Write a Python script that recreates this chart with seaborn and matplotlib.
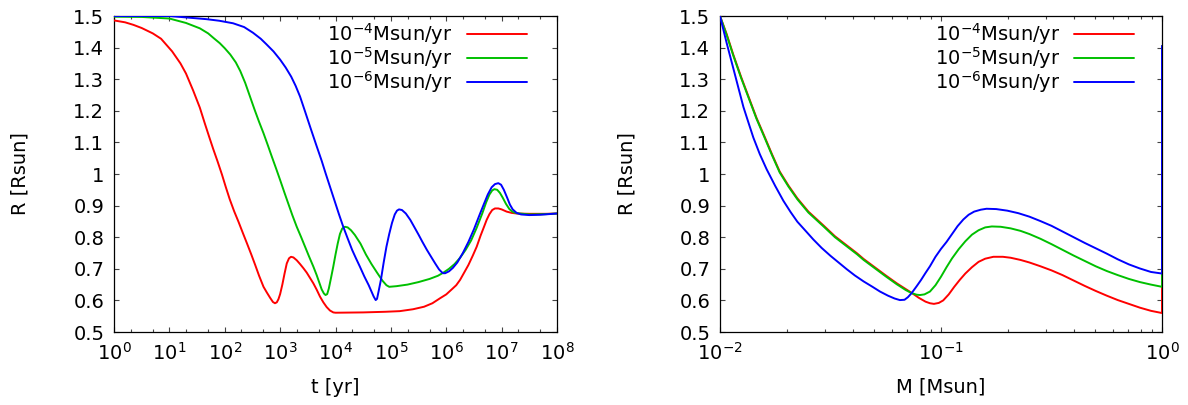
import numpy as np
import pandas as pd
import matplotlib
matplotlib.use("Agg")
import matplotlib.pyplot as plt
from matplotlib.ticker import (LogLocator, LogFormatterMathtext, MultipleLocator,
                               FuncFormatter, NullFormatter)
import seaborn as sns

# ---- radius [Rsun] vs log10(t / yr) for three accretion rates ----
logt_1e4 = [0.0, 0.2, 0.35, 0.5, 0.7, 0.85, 0.95, 1.05, 1.2, 1.3, 1.43, 1.55, 1.64,
            1.72, 1.79, 1.87, 1.95, 2.02, 2.09, 2.17, 2.25, 2.33, 2.40, 2.48, 2.55,
            2.62, 2.70, 2.76, 2.82, 2.87, 2.907, 2.94, 2.97, 3.0, 3.04, 3.08, 3.12,
            3.16, 3.196, 3.24, 3.3, 3.36, 3.42, 3.48, 3.54, 3.6, 3.66, 3.72, 3.78,
            3.84, 3.9, 3.96, 4.0, 4.5, 4.9, 5.16, 5.4, 5.6, 5.75, 5.89, 6.0, 6.1,
            6.18, 6.25, 6.33, 6.4, 6.48, 6.55, 6.62, 6.68, 6.73, 6.78, 6.83, 6.88,
            6.94, 7.0, 7.09, 7.18, 7.27, 7.5, 7.8, 8.0]
R_t_1e4 = [1.486, 1.480, 1.472, 1.462, 1.445, 1.428, 1.408, 1.388, 1.35, 1.318,
           1.264, 1.21, 1.16, 1.117, 1.08, 1.04, 0.998, 0.958, 0.92, 0.882, 0.848,
           0.812, 0.781, 0.745, 0.712, 0.678, 0.643, 0.625, 0.608, 0.595, 0.591,
           0.594, 0.604, 0.62, 0.65, 0.685, 0.717, 0.733, 0.738, 0.736, 0.727, 0.715,
           0.702, 0.688, 0.671, 0.654, 0.634, 0.612, 0.594, 0.579, 0.568, 0.562,
           0.561, 0.562, 0.564, 0.566, 0.572, 0.58, 0.591, 0.607, 0.619, 0.635, 0.648,
           0.665, 0.69, 0.712, 0.742, 0.77, 0.805, 0.832, 0.855, 0.873, 0.886, 0.891,
           0.891, 0.888, 0.881, 0.877, 0.875, 0.874, 0.874, 0.875]

logt_1e5 = [0.0, 0.5, 1.0, 1.3, 1.55, 1.7, 1.8, 1.91, 2.0, 2.1, 2.2, 2.28, 2.37,
            2.46, 2.54, 2.62, 2.70, 2.78, 2.85, 2.93, 3.0, 3.08, 3.15, 3.22, 3.3,
            3.38, 3.45, 3.52, 3.6, 3.66, 3.71, 3.75, 3.79, 3.82, 3.85, 3.88, 3.92,
            3.96, 4.0, 4.04, 4.08, 4.12, 4.17, 4.22, 4.28, 4.35, 4.45, 4.55, 4.65,
            4.75, 4.85, 4.92, 4.97, 5.1, 5.3, 5.5, 5.7, 5.85, 5.95, 6.05, 6.15, 6.25,
            6.35, 6.45, 6.55, 6.65, 6.72, 6.78, 6.83, 6.87, 6.92, 6.97, 7.02, 7.08,
            7.14, 7.2, 7.27, 7.5, 7.8, 8.0]
R_t_1e5 = [1.498, 1.497, 1.492, 1.478, 1.461, 1.445, 1.43, 1.414, 1.398, 1.378, 1.353,
           1.326, 1.288, 1.243, 1.203, 1.165, 1.129, 1.09, 1.055, 1.016, 0.981, 0.94,
           0.905, 0.87, 0.833, 0.8, 0.77, 0.74, 0.707, 0.68, 0.655, 0.635, 0.622,
           0.617, 0.62, 0.638, 0.672, 0.707, 0.745, 0.78, 0.81, 0.827, 0.833, 0.831,
           0.822, 0.807, 0.78, 0.745, 0.715, 0.688, 0.662, 0.648, 0.643, 0.645, 0.65,
           0.658, 0.668, 0.678, 0.688, 0.70, 0.715, 0.735, 0.76, 0.79, 0.83, 0.875,
           0.91, 0.935, 0.948, 0.952, 0.95, 0.94, 0.925, 0.905, 0.889, 0.88, 0.876,
           0.872, 0.873, 0.875]

logt_1e6 = [0.0, 1.0, 1.67, 1.9, 2.15, 2.35, 2.51, 2.65, 2.75, 2.88, 3.0, 3.1, 3.2,
            3.28, 3.36, 3.45, 3.55, 3.65, 3.75, 3.82, 3.9, 3.98, 4.06, 4.14, 4.22,
            4.3, 4.37, 4.44, 4.52, 4.6, 4.65, 4.69, 4.726, 4.75, 4.78, 4.82, 4.87,
            4.92, 4.97, 5.02, 5.07, 5.11, 5.147, 5.2, 5.27, 5.35, 5.43, 5.5, 5.57,
            5.65, 5.73, 5.8, 5.87, 5.92, 5.947, 5.98, 6.05, 6.12, 6.2, 6.3, 6.4, 6.5,
            6.6, 6.68, 6.75, 6.82, 6.88, 6.94, 6.99, 7.04, 7.1, 7.15, 7.2, 7.27, 7.35,
            7.5, 7.7, 8.0]
R_t_1e6 = [1.5, 1.5, 1.49, 1.485, 1.477, 1.465, 1.447, 1.428, 1.411, 1.388, 1.362,
           1.337, 1.308, 1.279, 1.245, 1.198, 1.145, 1.093, 1.042, 1.003, 0.96, 0.917,
           0.874, 0.833, 0.796, 0.76, 0.733, 0.707, 0.676, 0.648, 0.628, 0.612, 0.601,
           0.605, 0.63, 0.665, 0.72, 0.77, 0.81, 0.845, 0.872, 0.884, 0.888, 0.886,
           0.875, 0.855, 0.83, 0.808, 0.785, 0.76, 0.737, 0.717, 0.698, 0.689, 0.686,
           0.686, 0.692, 0.703, 0.72, 0.75, 0.785, 0.825, 0.87, 0.905, 0.935, 0.958,
           0.968, 0.971, 0.966, 0.95, 0.925, 0.903, 0.888, 0.877, 0.872, 0.87, 0.871,
           0.875]

# ---- radius [Rsun] vs log10(M / Msun) ----
logM_1e4 = [-2.0, -1.97, -1.94, -1.905, -1.87, -1.835, -1.80, -1.765, -1.73, -1.69,
            -1.65, -1.6, -1.53, -1.48, -1.43, -1.38, -1.35, -1.3, -1.25, -1.2, -1.16,
            -1.133, -1.1, -1.07, -1.05, -1.032, -1.01, -0.99, -0.965, -0.94, -0.915,
            -0.89, -0.86, -0.83, -0.8, -0.763, -0.72, -0.685, -0.64, -0.6, -0.55,
            -0.5, -0.45, -0.4, -0.35, -0.3, -0.25, -0.2, -0.15, -0.1, -0.05, 0.0, 0.0]
R_M_1e4 = [1.5, 1.443, 1.378, 1.308, 1.243, 1.178, 1.121, 1.063, 1.008, 0.963, 0.923,
           0.881, 0.836, 0.803, 0.776, 0.749, 0.731, 0.705, 0.679, 0.654, 0.636,
           0.624, 0.608, 0.596, 0.591, 0.589, 0.592, 0.6, 0.619, 0.643, 0.665, 0.685,
           0.705, 0.722, 0.732, 0.738, 0.738, 0.735, 0.728, 0.72, 0.708, 0.695, 0.68,
           0.663, 0.646, 0.63, 0.615, 0.601, 0.589, 0.577, 0.567, 0.56, 1.405]

logM_1e5 = [-2.0, -1.97, -1.94, -1.905, -1.87, -1.835, -1.80, -1.765, -1.73, -1.69,
            -1.65, -1.6, -1.53, -1.48, -1.43, -1.38, -1.35, -1.3, -1.25, -1.2, -1.16,
            -1.133, -1.11, -1.095, -1.075, -1.05, -1.025, -1.0, -0.975, -0.95, -0.92,
            -0.89, -0.86, -0.83, -0.8, -0.77, -0.73, -0.685, -0.64, -0.6, -0.55, -0.5,
            -0.45, -0.4, -0.35, -0.3, -0.25, -0.2, -0.15, -0.1, -0.05, 0.0, 0.0]
R_M_1e5 = [1.5, 1.44, 1.375, 1.305, 1.24, 1.175, 1.118, 1.06, 1.005, 0.96, 0.92,
           0.878, 0.833, 0.8, 0.773, 0.746, 0.728, 0.702, 0.676, 0.651, 0.633, 0.623,
           0.618, 0.617, 0.619, 0.628, 0.648, 0.675, 0.705, 0.733, 0.762, 0.787,
           0.808, 0.822, 0.831, 0.834, 0.833, 0.828, 0.82, 0.81, 0.795, 0.778, 0.76,
           0.742, 0.725, 0.708, 0.693, 0.68, 0.668, 0.658, 0.65, 0.643, 1.405]

logM_1e6 = [-2.0, -1.97, -1.94, -1.915, -1.894, -1.87, -1.849, -1.82, -1.789, -1.75,
            -1.713, -1.68, -1.65, -1.61, -1.578, -1.54, -1.5, -1.46, -1.427, -1.39,
            -1.35, -1.31, -1.276, -1.24, -1.21, -1.186, -1.165, -1.15, -1.133, -1.11,
            -1.09, -1.07, -1.05, -1.025, -1.0, -0.975, -0.95, -0.925, -0.899, -0.875,
            -0.85, -0.82, -0.794, -0.75, -0.7, -0.65, -0.6, -0.55, -0.5, -0.45, -0.4,
            -0.35, -0.3, -0.25, -0.2, -0.15, -0.1, -0.05, 0.0, 0.0]
R_M_1e6 = [1.5, 1.415, 1.335, 1.268, 1.212, 1.16, 1.115, 1.063, 1.015, 0.962, 0.915,
           0.879, 0.849, 0.818, 0.793, 0.766, 0.741, 0.718, 0.699, 0.679, 0.66, 0.643,
           0.628, 0.615, 0.606, 0.601, 0.602, 0.61, 0.623, 0.645, 0.665, 0.687, 0.708,
           0.738, 0.763, 0.785, 0.81, 0.835, 0.856, 0.871, 0.881, 0.887, 0.890, 0.889,
           0.884, 0.876, 0.865, 0.851, 0.836, 0.818, 0.8, 0.782, 0.765, 0.748, 0.73,
           0.714, 0.701, 0.69, 0.685, 1.405]

labels = [r"$10^{-4}$Msun/yr", r"$10^{-5}$Msun/yr", r"$10^{-6}$Msun/yr"]
colors = ["#ff0000", "#00c000", "#0000ff"]

sns.set_theme(style="ticks")
FS = 14
plt.rcParams.update({
    "font.family": ["DejaVu Sans"],
    "mathtext.fontset": "dejavusans",
    "mathtext.default": "regular",
    "font.size": FS,
    "text.color": "black",
    "axes.labelcolor": "black",
    "xtick.color": "black",
    "ytick.color": "black",
    "axes.linewidth": 0.9,
    "axes.edgecolor": "black",
})

W, H = 1188, 405
fig = plt.figure(figsize=(W / 100, H / 100), dpi=100)
ax1 = fig.add_axes([114 / W, 1 - 332 / H, 443 / W, 316 / H])
ax2 = fig.add_axes([720 / W, 1 - 332 / H, 442 / W, 316 / H])


def draw_curves(ax, series):
    for (x, y), lab, col in zip(series, labels, colors):
        df = pd.DataFrame({"x": 10 ** np.asarray(x, float), "R": y})
        sns.lineplot(data=df, x="x", y="R", ax=ax, color=col, label=lab,
                     estimator=None, sort=False, linewidth=1.4, legend=False,
                     zorder=3)


draw_curves(ax1, [(logt_1e4, R_t_1e4), (logt_1e5, R_t_1e5), (logt_1e6, R_t_1e6)])
draw_curves(ax2, [(logM_1e4, R_M_1e4), (logM_1e5, R_M_1e5), (logM_1e6, R_M_1e6)])


def style(ax, xlim, minor_subs, xlabel, legend_x):
    ax.set_xscale("log")
    ax.set_xlim(*xlim)
    ax.set_ylim(0.5, 1.5)
    ax.xaxis.set_major_locator(LogLocator(base=10, numticks=20))
    ax.xaxis.set_major_formatter(LogFormatterMathtext())
    ax.xaxis.set_minor_locator(LogLocator(base=10, subs=minor_subs, numticks=50))
    ax.xaxis.set_minor_formatter(NullFormatter())
    ax.yaxis.set_major_locator(MultipleLocator(0.1))
    ax.yaxis.set_major_formatter(FuncFormatter(lambda v, p: "%g" % round(v, 2)))
    ax.tick_params(which="both", direction="in", top=True, right=True,
                   color="#444444", labelcolor="black", width=0.8, labelsize=FS)
    ax.tick_params(which="major", length=3.8)
    ax.tick_params(which="minor", length=2.0)
    ax.tick_params(axis="x", which="major", pad=7)
    ax.tick_params(axis="y", which="major", pad=7)
    ax.set_xlabel(xlabel, fontsize=FS, color="black")
    ax.set_ylabel("R [Rsun]", fontsize=FS, color="black")
    ax.xaxis.set_label_coords(0.5, -0.145)
    ax.yaxis.set_label_coords(-0.19, 0.5)
    for s in ax.spines.values():
        s.set_visible(True)
        s.set_color("black")
        s.set_linewidth(0.9)
    leg = ax.legend(loc="upper right", bbox_to_anchor=(legend_x, 0.985),
                    frameon=False, markerfirst=False, handlelength=3.1,
                    handletextpad=0.7, labelspacing=-0.1, borderpad=0,
                    borderaxespad=0, fontsize=FS, labelcolor="black")
    for h in leg.get_lines():
        h.set_linewidth(1.4)


style(ax1, (1, 1e8), (2.0, 5.0), "t [yr]", 0.932)
style(ax2, (1e-2, 1), tuple(range(2, 10)), "M [Msun]", 0.937)

fig.savefig("out.png", dpi=100)
